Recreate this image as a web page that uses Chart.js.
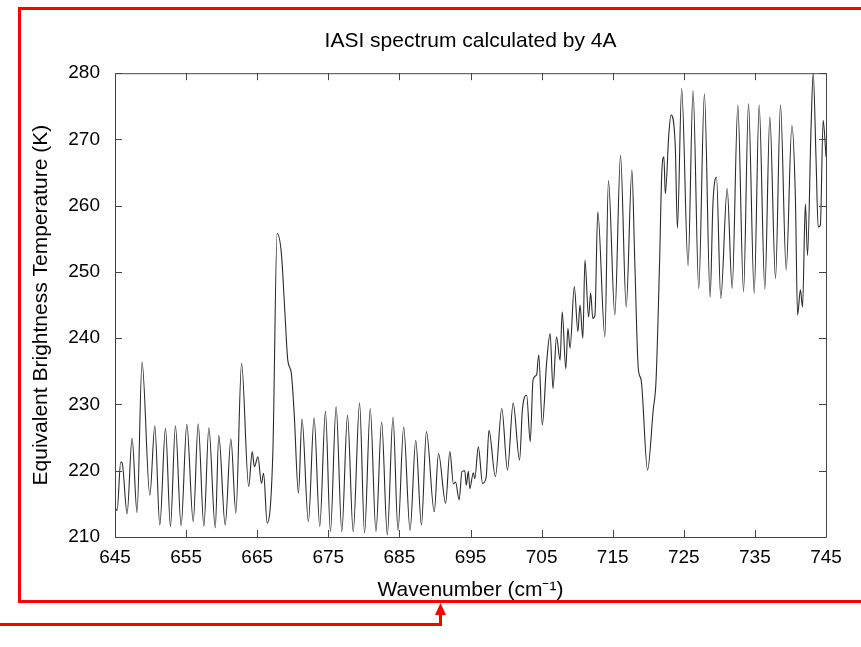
<!DOCTYPE html>
<html>
<head>
<meta charset="utf-8">
<title>IASI spectrum calculated by 4A</title>
<script src="https://cdn.jsdelivr.net/npm/chart.js@4.4.1/dist/chart.umd.min.js"></script>
<style>
    html, body { margin: 0; padding: 0; background: #fff; }
    #wrap { position: relative; width: 861px; height: 647px; }
</style>
</head>
<body>
<div id="wrap"><canvas id="spectrumChart" width="861" height="647"></canvas></div>
<script>
// ========== DATA ==========
// Wavenumber (cm-1) and equivalent brightness temperature (K)
const wavenumber = [
    645.0, 645.3, 645.8, 646.0, 646.7, 647.4, 648.1, 648.8, 649.9, 650.6,
    651.3, 652.1, 652.8, 653.5, 654.3, 655.1, 656.0, 656.7, 657.5, 658.2,
    659.1, 659.6, 660.5, 661.3, 662.0, 662.8, 663.8, 664.3, 664.6, 665.1,
    665.6, 665.9, 666.4, 667.2, 667.8, 668.4, 668.9, 669.3, 669.8, 670.2,
    670.8, 671.3, 672.2, 673.0, 673.8, 674.6, 675.3, 676.1, 676.9, 677.7,
    678.5, 679.4, 680.1, 680.9, 681.7, 682.5, 683.3, 684.1, 684.8, 685.6,
    686.5, 687.3, 688.1, 688.8, 689.9, 690.5, 691.5, 692.1, 692.6, 692.9,
    693.4, 693.8, 694.2, 694.4, 694.7, 694.9, 695.4, 695.6, 696.1, 696.7,
    697.2, 697.6, 698.5, 699.4, 700.2, 701.0, 701.9, 702.3, 702.9, 703.4,
    703.8, 704.3, 704.6, 705.1, 705.7, 706.2, 706.6, 707.1, 707.6, 707.9,
    708.4, 708.7, 709.0, 709.6, 710.1, 710.4, 710.8, 711.1, 711.6, 711.9,
    712.2, 712.5, 712.9, 713.9, 714.4, 715.3, 716.1, 716.9, 717.7, 718.1,
    718.6, 719.0, 719.9, 720.7, 721.1, 721.6, 721.9, 722.2, 722.4, 722.9,
    723.2, 723.8, 724.1, 724.7, 725.6, 726.3, 727.1, 727.9, 728.7, 729.1,
    729.6, 730.2, 731.1, 731.8, 732.6, 733.4, 734.1, 734.9, 735.6, 736.4,
    737.1, 737.9, 738.6, 739.4, 740.2, 740.7, 741.0, 741.4, 741.7, 742.1,
    742.4, 742.9, 743.2, 743.6, 743.9, 744.2, 744.6, 745.0
];
const brightnessTemp = [
    214.5, 214.0, 221.3, 221.2, 213.5, 224.9, 213.7, 236.4, 216.3, 226.8,
    211.8, 226.4, 211.6, 226.8, 211.7, 227.0, 212.3, 227.1, 211.6, 226.5,
    211.4, 225.3, 211.8, 224.8, 213.6, 236.2, 217.6, 222.9, 220.6, 222.1,
    218.1, 219.6, 212.1, 222.7, 255.8, 252.8, 243.8, 236.7, 234.7, 228.7,
    216.6, 227.8, 212.3, 228.0, 211.6, 229.0, 210.8, 229.7, 210.8, 228.4,
    210.8, 230.2, 210.6, 229.4, 210.8, 227.4, 210.3, 228.1, 211.0, 226.6,
    211.0, 224.6, 211.8, 225.9, 213.8, 222.6, 215.1, 222.9, 218.0, 218.3,
    215.6, 219.9, 220.0, 217.8, 219.9, 217.3, 219.7, 218.8, 223.6, 218.1,
    219.0, 226.1, 219.1, 229.4, 220.1, 230.2, 221.6, 229.2, 231.4, 224.4,
    233.7, 234.5, 237.5, 226.9, 236.2, 240.7, 232.4, 240.2, 236.7, 244.0,
    235.4, 241.5, 238.5, 247.8, 241.0, 245.0, 240.0, 251.8, 243.2, 246.8,
    243.0, 243.5, 259.1, 240.2, 263.8, 243.5, 267.6, 244.7, 265.4, 251.8,
    235.4, 233.7, 220.1, 229.2, 233.7, 251.8, 264.9, 267.4, 261.8, 270.9,
    273.7, 269.0, 256.6, 277.7, 251.0, 277.4, 247.5, 276.9, 246.2, 260.3,
    264.3, 246.0, 262.6, 247.5, 275.2, 247.0, 275.4, 246.8, 275.2, 247.4,
    273.4, 249.0, 275.2, 250.3, 272.1, 261.0, 243.5, 247.3, 244.7, 260.3,
    252.5, 271.9, 280.0, 267.0, 256.8, 257.0, 272.9, 267.4
];

// Axis ranges and tick labels
const xTicks = [645, 655, 665, 675, 685, 695, 705, 715, 725, 735, 745];
const yTicks = [210, 220, 230, 240, 250, 260, 270, 280];

const chartTitle = "IASI spectrum calculated by 4A";
const xLabel = "Wavenumber (cm\u207B\u00B9)";
const yLabel = "Equivalent Brightness Temperature (K)";

const FONT = "'Liberation Sans', Arial, Helvetica, sans-serif";

// ========== PLUGINS ==========
// gnuplot style box with inward ticks on all four sides
const frameTicks = {
    id: "frameTicks",
    afterDatasetsDraw(chart) {
        const { ctx, chartArea: a, scales } = chart;
        const len = 7;
        ctx.save();
        ctx.strokeStyle = "#444";
        ctx.lineWidth = 1;
        ctx.beginPath();
        ctx.rect(a.left + 0.5, a.top + 0.5, a.right - a.left, a.bottom - a.top);
        scales.x.ticks.forEach((t, i) => {
            const px = Math.round(scales.x.getPixelForTick(i)) + 0.5;
            ctx.moveTo(px, a.bottom);
            ctx.lineTo(px, a.bottom - len);
            ctx.moveTo(px, a.top);
            ctx.lineTo(px, a.top + len);
        });
        scales.y.ticks.forEach((t, i) => {
            const py = Math.round(scales.y.getPixelForTick(i)) + 0.5;
            ctx.moveTo(a.left, py);
            ctx.lineTo(a.left + len, py);
            ctx.moveTo(a.right, py);
            ctx.lineTo(a.right - len, py);
        });
        ctx.stroke();
        ctx.restore();
    }
};

// red annotation frame and arrow drawn over the figure
const redMarkup = {
    id: "redMarkup",
    afterDraw(chart) {
        const ctx = chart.ctx;
        ctx.save();
        ctx.strokeStyle = "#ff0000";
        ctx.fillStyle = "#ff0000";
        ctx.lineWidth = 3;
        ctx.strokeRect(19.5, 8.5, 900, 593);
        ctx.beginPath();
        ctx.moveTo(0, 624.5);
        ctx.lineTo(440.5, 624.5);
        ctx.lineTo(440.5, 612);
        ctx.stroke();
        ctx.beginPath();
        ctx.moveTo(440.5, 603);
        ctx.lineTo(435, 615);
        ctx.lineTo(446, 615);
        ctx.closePath();
        ctx.fill();
        ctx.restore();
    }
};

// ========== CHART ==========
const points = wavenumber.map((w, i) => ({ x: w, y: brightnessTemp[i] }));

const ctx = document.getElementById("spectrumChart").getContext("2d");
const spectrumChart = new Chart(ctx, {
    type: "line",
    data: {
        datasets: [
            {
                label: "4A",
                data: points,
                borderColor: "#2a2a2a",
                borderWidth: 1.1,
                pointRadius: 0,
                fill: false,
                cubicInterpolationMode: "monotone"
            }
        ]
    },
    options: {
        responsive: false,
        animation: false,
        layout: { padding: { left: 0, right: 35, top: 0, bottom: 0 } },
        plugins: {
            legend: { display: false },
            tooltip: { enabled: false },
            title: {
                display: true,
                text: chartTitle,
                fullSize: false,
                color: "#000",
                font: { family: FONT, size: 21, weight: "normal" },
                padding: { top: 29, bottom: 19 }
            }
        },
        scales: {
            x: {
                type: "linear",
                min: xTicks[0],
                max: xTicks[xTicks.length - 1],
                afterBuildTicks: (scale) => {
                    scale.ticks = xTicks.map(v => ({ value: v }));
                },
                afterFit: (scale) => { scale.height = 110; },
                grid: { display: false, drawTicks: false },
                border: { display: false },
                ticks: {
                    color: "#000",
                    padding: 9,
                    maxRotation: 0,
                    autoSkip: false,
                    font: { family: FONT, size: 19 }
                },
                title: {
                    display: true,
                    text: xLabel,
                    color: "#000",
                    font: { family: FONT, size: 21 },
                    padding: { top: 0, bottom: 44 }
                }
            },
            y: {
                type: "linear",
                min: yTicks[0],
                max: yTicks[yTicks.length - 1],
                afterBuildTicks: (scale) => {
                    scale.ticks = yTicks.map(v => ({ value: v }));
                },
                afterFit: (scale) => { scale.width = 115; },
                grid: { display: false, drawTicks: false },
                border: { display: false },
                ticks: {
                    color: "#000",
                    padding: 15,
                    autoSkip: false,
                    font: { family: FONT, size: 19 }
                },
                title: {
                    display: true,
                    text: yLabel,
                    color: "#000",
                    font: { family: FONT, size: 21 },
                    padding: { top: 29, bottom: 0 }
                }
            }
        }
    },
    plugins: [frameTicks, redMarkup]
});
</script>
</body>
</html>
